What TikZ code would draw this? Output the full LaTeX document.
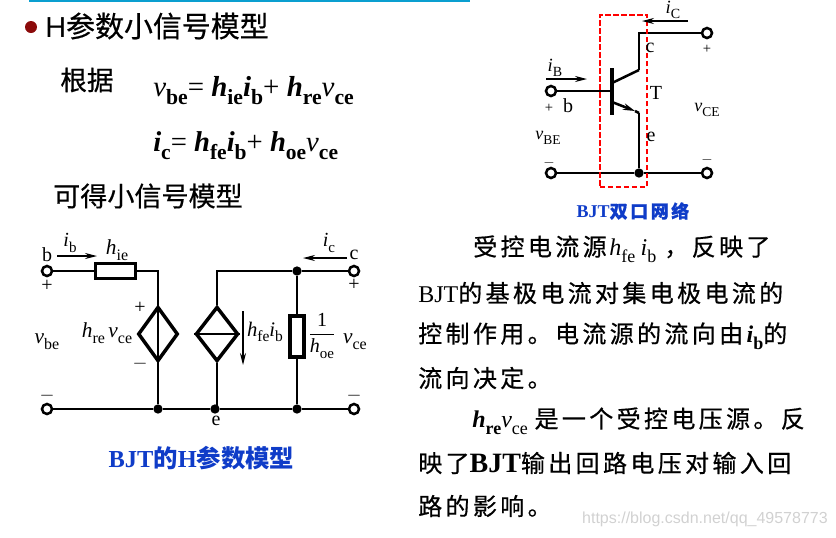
\documentclass[tikz,border=0pt]{standalone}
\usepackage{amsmath}
\usepackage{fontspec}
\usetikzlibrary{shapes.geometric,arrows.meta}
\setmainfont{Liberation Serif}
\newfontfamily\cjk{Noto Sans CJK SC}[FakeBold=0.5]
\newfontfamily\cjkplain{Noto Sans CJK SC}
\newfontfamily\cjksp{Noto Sans CJK SC}[LetterSpace=14,FakeBold=0.6]
\newfontfamily\headfont{Liberation Sans}
\definecolor{barblue}{HTML}{0A9FD0}
\definecolor{capblue}{HTML}{0F3CC8}
\definecolor{bulletred}{HTML}{8B0A0A}
\newcommand{\subsc}[1]{\raisebox{-.28em}{\scalebox{.75}{#1}}}
\newcommand{\lv}[2]{{\rmfamily\textit{#1}\subsc{#2}}}
\newcommand{\bv}[2]{{\rmfamily\textbf{\textit{#1}}\subsc{\textbf{#2}}}}
\newcommand{\fz}[1]{\fontsize{#1}{#1}\selectfont}
\tikzset{
  wire/.style={line width=1.9pt},
  term/.style={circle,draw,line width=1.9pt,fill=white,minimum size=7.5pt},
  dotn/.style={circle,fill=black,minimum size=7pt},
  resbox/.style={rectangle,draw,line width=2.6pt,fill=white},
  srcbox/.style={diamond,draw,line width=2.6pt,fill=white},
  lab/.style={font=\fz{15pt}},
  sigarrow/.style={-{Stealth[length=9pt,width=4.5pt]},line width=1pt},
  txt/.style={anchor=west,font=\fz{18pt}\cjksp},
  captxt/.style={font=\fz{18.3pt}\bfseries\cjkplain,text=capblue}
}
\begin{document}
\begin{tikzpicture}[x=0.75pt,y=-0.75pt]
\tikzstyle{every node}+=[inner sep=0pt]
\useasboundingbox (0,0) rectangle (836,537);
\draw [barblue,line width=2.2pt] (29,0.8) -- (470,0.8);
\node [circle,fill=bulletred,minimum size=9pt] (bullet) at (31,27) {};
\node [anchor=west,font=\fz{21.7pt}] (title) at (45,26) {{\headfont H}\cjk 参数小信号模型};
\node [anchor=west,font=\fz{20pt}\cjk] (basis) at (60,80) {根据};
\node [anchor=base west,font=\fz{21.7pt}] (eqa) at (153,96) {\textit{v}\subsc{\textbf{be}}= \bv{h}{ie}\bv{i}{b}+ \bv{h}{re}\textit{v}\subsc{\textbf{ce}}};
\node [anchor=base west,font=\fz{21.5pt}] (eqb) at (153,151) {\bv{i}{c}= \bv{h}{fe}\bv{i}{b}+ \bv{h}{oe}\textit{v}\subsc{\textbf{ce}}};
\node [anchor=west,font=\fz{20.3pt}\cjk] (obtain) at (53,196) {可得小信号模型};
\node [term] (bin) at (47,271) {};
\node [term] (ein) at (47,409) {};
\node [term] (cout) at (354,271) {};
\node [term] (eout) at (354,409) {};
\node [resbox,minimum width=30pt,minimum height=11pt] (rie) at (115.5,271) {};
\node [srcbox,minimum width=30pt,minimum height=41pt] (vsrc) at (158,334) {};
\node [srcbox,minimum width=32pt,minimum height=41pt] (isrc) at (217,334) {};
\node [resbox,minimum width=10.5pt,minimum height=31pt] (roe) at (297,336.5) {};
\node [dotn] (ctop) at (297,271) {};
\node [dotn] (evs) at (158,409) {};
\node [dotn] (eis) at (215,409) {};
\node [dotn] (eoe) at (297,409) {};
\draw [wire] (bin) -- (rie);
\draw [wire] (rie) -| (vsrc.north);
\draw [wire] (vsrc.north) -- (vsrc.south);
\draw [wire] (vsrc.south) -- (evs);
\draw [wire] (isrc.west) -- (isrc.east);
\draw [wire] (isrc.north) |- (ctop);
\draw [wire] (ctop) -- (cout);
\draw [wire] (ctop) -- (roe);
\draw [wire] (roe) -- (eoe);
\draw [wire] (isrc.south) -- (217,409);
\draw [wire] (ein) -- (evs);
\draw [wire] (evs) -- (eis);
\draw [wire] (eis) -- (eoe);
\draw [wire] (eoe) -- (eout);
\coordinate (iba) at (57,256);
\coordinate (ibb) at (97,256);
\coordinate (ica) at (347,258);
\coordinate (icb) at (303,258);
\coordinate (hfa) at (243,311);
\coordinate (hfb) at (243,365);
\draw [sigarrow] (iba) -- (ibb);
\draw [sigarrow] (ica) -- (icb);
\draw [sigarrow] (hfa) -- (hfb);
\node [lab] (lb) at (47,255) {b};
\node [lab] (lib) at (70,243) {\lv{i}{b}};
\node [lab,font=\fz{16pt}] (lhie) at (117,250) {\lv{h}{ie}};
\node [lab] (lc) at (354,255) {c};
\node [lab] (lic) at (329,243) {\lv{i}{c}};
\node [lab] (lpa) at (47,286) {+};
\node [lab] (lpb) at (354,285) {+};
\node [lab] (lpc) at (140,308) {+};
\node [lab] (lmc) at (140,364) {$-$};
\node [lab] (lma) at (47,396) {$-$};
\node [lab] (lmb) at (354,396) {$-$};
\node [lab,font=\fz{16pt}] (lvbe) at (47,342) {\lv{v}{be}};
\node [lab,font=\fz{16pt}] (lhre) at (107,333) {\lv{h}{re}\,\lv{v}{ce}};
\node [lab,font=\fz{15.5pt}] (lhfe) at (265,332) {\lv{h}{fe}\lv{i}{b}};
\node [lab] (lfrac) at (322,336) {$\dfrac{\mbox{1}}{\mbox{\lv{h}{oe}}}$};
\node [lab,font=\fz{16pt}] (lvce) at (355,342) {\lv{v}{ce}};
\node [lab] (le) at (216,421) {e};
\node [captxt] (capa) at (201.5,458) {{\rmfamily BJT}的{\rmfamily H}参数模型};
\node [term] (bt) at (551,91) {};
\node [term] (ct) at (707,33) {};
\node [term] (el) at (551,173) {};
\node [term] (er) at (707,173) {};
\node [dotn] (ej) at (639,173) {};
\coordinate (bbar) at (612,91);
\coordinate (bara) at (612,68);
\coordinate (barb) at (612,115);
\coordinate (cbase) at (612,83);
\coordinate (cknee) at (639,70);
\coordinate (ebase) at (612,102);
\coordinate (etip) at (635,111);
\coordinate (eknee) at (639,113);
\draw [wire] (bt) -- (bbar);
\draw [line width=3pt] (bara) -- (barb);
\draw [wire] (ct) -| (cknee);
\draw [wire] (cknee) -- (cbase);
\draw [wire,-{Stealth[length=9pt,width=5pt]}] (ebase) -- (etip);
\draw [wire] (etip) -- (eknee);
\draw [wire] (eknee) -- (ej);
\draw [wire] (el) -- (ej);
\draw [wire] (ej) -- (er);
\node [draw=red,dash pattern=on 4pt off 2pt,line width=1.1pt,minimum width=35.5pt,minimum height=129pt] (port) at (623.5,101) {};
\coordinate (ica2) at (688,21);
\coordinate (icb2) at (642,21);
\coordinate (iba2) at (546,79);
\coordinate (ibb2) at (587,79);
\draw [sigarrow] (ica2) -- (icb2);
\draw [sigarrow] (iba2) -- (ibb2);
\node [lab,font=\fz{14pt}] (liC) at (673,10) {\lv{i}{C}};
\node [lab,font=\fz{14pt}] (liB) at (555,68) {\lv{i}{B}};
\node [lab] (lcc) at (650,48) {c};
\node [lab] (lbb) at (568,106) {b};
\node [lab] (lT) at (656,93) {T};
\node [lab] (lee) at (651,137) {e};
\node [lab,font=\fz{11pt}] (lpd) at (549,108) {+};
\node [lab,font=\fz{11pt}] (lpe) at (707,49) {+};
\node [lab,font=\fz{11pt}] (lmd) at (549,163) {$-$};
\node [lab,font=\fz{11pt}] (lme) at (707,160) {$-$};
\node [lab,font=\fz{13.5pt}] (lvBE) at (548,138) {\lv{v}{BE}};
\node [lab,font=\fz{13.5pt}] (lvCE) at (707,110) {\lv{v}{CE}};
\node [captxt,font=\fz{13.5pt}\bfseries\cjkplain] (capb) at (633,211) {\rmfamily BJT\cjksp 双口网络};
\node [txt] (para) at (473,249) {受控电流源\hspace{2pt}\lv{h}{fe}\hspace{4pt}\lv{i}{b}\hspace{6pt}，反映了};
\node [txt] (parb) at (418,293) {{\rmfamily BJT}的基极电流对集电极电流的};
\node [txt] (parc) at (418,336) {控制作用。电流源的流向由\bv{i}{b}的};
\node [txt] (pard) at (418,378) {流向决定。};
\node [txt] (pare) at (472,421) {\bv{h}{re}\lv{v}{ce}\hspace{5pt}是一个受控电压源。反};
\node [txt] (parf) at (418,463) {映了{\rmfamily\bfseries\fz{21pt}BJT}输出回路电压对输入回};
\node [txt] (parg) at (418,506) {路的影响。};
\node [anchor=east,font=\fz{12pt}\headfont,text=black!18] (mark) at (828,519) {https://blog.csdn.net/qq\_49578773};
\end{tikzpicture}
\end{document}
